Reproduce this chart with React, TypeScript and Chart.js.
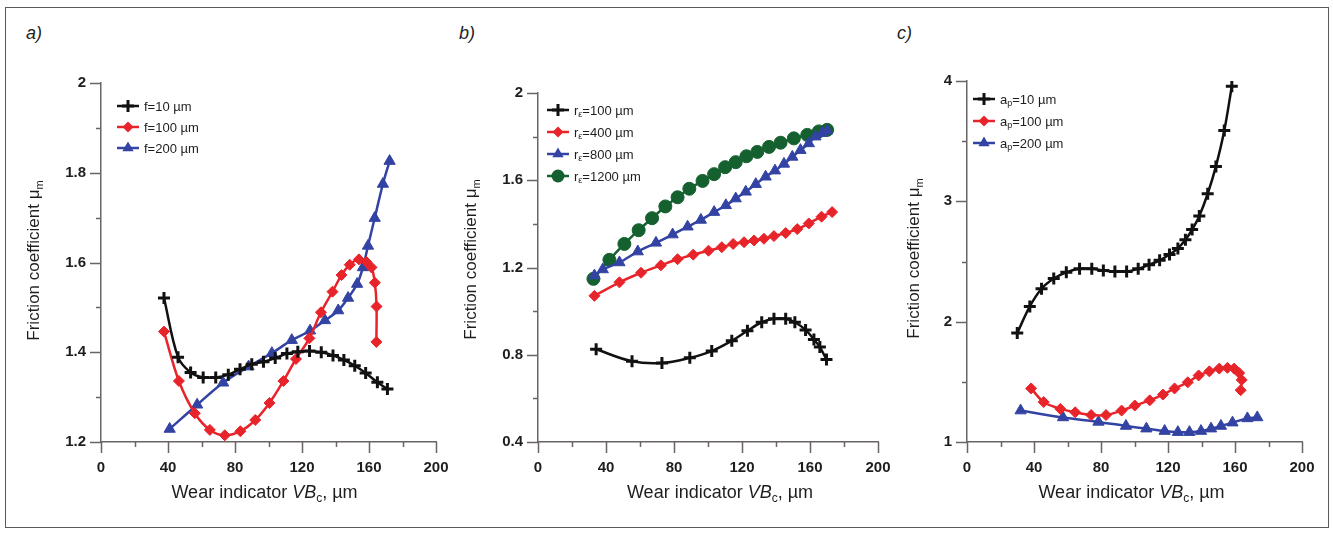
import React, { useEffect, useRef } from 'react';
import { Chart, registerables } from 'chart.js';
Chart.register(...registerables);

// ---------- shared axis ticks ----------
const X_TICKS = [0, 20, 40, 60, 80, 100, 120, 140, 160, 180, 200];
const X_MAJOR = [0, 40, 80, 120, 160, 200];

// ---------- panel a ----------
const A_Y_TICKS = [1.2, 1.3, 1.4, 1.5, 1.6, 1.7, 1.8, 1.9, 2];
const A_Y_MAJOR = [1.2, 1.4, 1.6, 1.8, 2];
const A_F10_X = [37.6, 46, 53.5, 61, 68.5, 76, 83, 90, 97, 104, 111, 117.5, 124.5, 131.5, 138.5, 145, 151.5, 158, 165, 171];
const A_F10_Y = [1.521, 1.389, 1.355, 1.344, 1.344, 1.35, 1.362, 1.373, 1.379, 1.387, 1.397, 1.401, 1.403, 1.4, 1.393, 1.383, 1.37, 1.354, 1.333, 1.318];
const A_F100_X = [37.6, 46.5, 56, 65, 73.9, 83.2, 92.1, 100.6, 108.9, 116.4, 124.4, 131.3, 138.2, 143.6, 148.5, 154, 158.5, 161.5, 163.5, 164.5, 164.4];
const A_F100_Y = [1.446, 1.336, 1.264, 1.227, 1.215, 1.224, 1.249, 1.287, 1.336, 1.385, 1.431, 1.489, 1.535, 1.572, 1.595, 1.607, 1.601, 1.589, 1.555, 1.502, 1.423];
const A_F200_X = [41, 57.4, 72.9, 88.1, 102, 113.9, 124.8, 133.7, 141.6, 147.5, 152.9, 156.4, 159.4, 163.4, 168.3, 172.3];
const A_F200_Y = [1.229, 1.283, 1.332, 1.368, 1.398, 1.427, 1.448, 1.471, 1.493, 1.521, 1.552, 1.589, 1.637, 1.699, 1.775, 1.826];

// ---------- panel b ----------
const B_Y_TICKS = [0.4, 0.6, 0.8, 1.0, 1.2, 1.4, 1.6, 1.8, 2];
const B_Y_MAJOR = [0.4, 0.8, 1.2, 1.6, 2];
const B_R100_X = [34.2, 55.3, 72.9, 89.3, 102.2, 114, 123.2, 131.6, 138.8, 145.7, 151.1, 157.4, 162.3, 165.8, 169.7];
const B_R100_Y = [0.825, 0.77, 0.762, 0.786, 0.817, 0.864, 0.91, 0.949, 0.965, 0.965, 0.949, 0.914, 0.87, 0.835, 0.778];
const B_R400_X = [33.2, 47.9, 60.6, 72.3, 82.1, 91.3, 100.3, 108.1, 114.8, 121.2, 127.1, 132.9, 138.8, 145.7, 152.5, 159.3, 166.8, 173];
const B_R400_Y = [1.07, 1.132, 1.176, 1.21, 1.238, 1.259, 1.277, 1.293, 1.308, 1.316, 1.324, 1.332, 1.344, 1.358, 1.376, 1.402, 1.433, 1.454];
const B_R800_X = [33.2, 38.1, 47.9, 58.7, 69.4, 79.2, 88, 95.8, 103.6, 110.5, 116.3, 122.2, 128.1, 133.9, 139.4, 144.7, 149.6, 154.4, 159.3, 163.2, 167.2, 170.1];
const B_R800_Y = [1.163, 1.191, 1.223, 1.273, 1.313, 1.351, 1.387, 1.418, 1.454, 1.485, 1.516, 1.547, 1.582, 1.616, 1.644, 1.675, 1.707, 1.738, 1.769, 1.8, 1.816, 1.827];
const B_R1200_X = [32.6, 42, 50.8, 59.2, 67.1, 74.9, 82.1, 89, 96.8, 103.6, 110.1, 116.3, 122.6, 129, 135.9, 142.7, 150.5, 158.4, 165.2, 170.1];
const B_R1200_Y = [1.148, 1.235, 1.308, 1.371, 1.426, 1.48, 1.522, 1.561, 1.597, 1.628, 1.66, 1.683, 1.71, 1.73, 1.753, 1.772, 1.792, 1.808, 1.824, 1.831];

// ---------- panel c ----------
const C_Y_TICKS = [1, 1.5, 2, 2.5, 3, 3.5, 4];
const C_Y_MAJOR = [1, 2, 3, 4];
const C_A10_X = [30, 37.5, 44.5, 51.8, 59.3, 67.2, 74.5, 81.4, 88.3, 95.3, 102.2, 108.7, 115, 120.9, 125.9, 130.4, 134.4, 138.7, 143.7, 148.6, 153.6, 158.1];
const C_A10_Y = [1.905, 2.127, 2.274, 2.359, 2.41, 2.439, 2.439, 2.425, 2.416, 2.416, 2.439, 2.473, 2.51, 2.558, 2.609, 2.68, 2.765, 2.879, 3.063, 3.29, 3.588, 3.957];
const C_A100_X = [38.3, 45.8, 55.7, 64.6, 74.1, 83, 92.3, 100.2, 109.1, 117, 123.9, 131.8, 138.3, 144.7, 150.6, 155.5, 159.5, 162.5, 164, 163.4];
const C_A100_Y = [1.445, 1.332, 1.275, 1.247, 1.224, 1.224, 1.261, 1.303, 1.346, 1.394, 1.445, 1.496, 1.553, 1.587, 1.61, 1.616, 1.61, 1.573, 1.516, 1.431];
const C_A200_X = [32, 57.3, 78.5, 94.9, 107.1, 118, 125.9, 132.8, 139.7, 145.7, 151.6, 158.5, 167.4, 173.3];
const C_A200_Y = [1.261, 1.204, 1.167, 1.133, 1.111, 1.091, 1.082, 1.082, 1.091, 1.111, 1.133, 1.161, 1.196, 1.204];

// ---------- styles ----------
const BLACK = '#111111';
const RED = '#e8242b';
const BLUE = '#3343a3';
const GREEN = '#15602f';
const AXIS = '#6a6464';
const TEXT = '#1e1e1e';
const FONT = '"Liberation Sans", Arial, Helvetica, sans-serif';

type Seg = { t: string; it?: boolean; sub?: boolean };
type Kind = 'cross' | 'diamond' | 'triangle' | 'circle';
type Series = { xs: number[]; ys: number[]; kind: Kind; label: Seg[] };

const KIND_STYLE: Record<Kind, { color: string; pointStyle: string; r: number; bw: number }> = {
  cross: { color: BLACK, pointStyle: 'cross', r: 6, bw: 3 },
  diamond: { color: RED, pointStyle: 'rectRot', r: 5.5, bw: 1 },
  triangle: { color: BLUE, pointStyle: 'triangle', r: 6.5, bw: 1 },
  circle: { color: GREEN, pointStyle: 'circle', r: 6.5, bw: 1 },
};

function drawRich(ctx: CanvasRenderingContext2D, segs: Seg[], x: number, y: number, size: number, align: 'left' | 'center', weight = 'normal') {
  const fontFor = (s: Seg) => `${s.it ? 'italic ' : ''}${weight} ${s.sub ? Math.round(size * 0.66) : size}px ${FONT}`;
  const widths = segs.map((s) => {
    ctx.font = fontFor(s);
    return ctx.measureText(s.t).width;
  });
  const total = widths.reduce((a, b) => a + b, 0);
  let cx = align === 'center' ? x - total / 2 : x;
  ctx.textAlign = 'left';
  ctx.textBaseline = 'alphabetic';
  segs.forEach((s, i) => {
    ctx.font = fontFor(s);
    ctx.fillText(s.t, cx, s.sub ? y + size * 0.22 : y);
    cx += widths[i];
  });
}

function drawMarker(ctx: CanvasRenderingContext2D, kind: Kind, x: number, y: number) {
  const st = KIND_STYLE[kind];
  const r = st.r;
  ctx.fillStyle = st.color;
  ctx.strokeStyle = st.color;
  ctx.beginPath();
  if (kind === 'cross') {
    ctx.lineWidth = st.bw;
    ctx.moveTo(x - r, y);
    ctx.lineTo(x + r, y);
    ctx.moveTo(x, y - r);
    ctx.lineTo(x, y + r);
    ctx.stroke();
    return;
  }
  if (kind === 'diamond') {
    ctx.moveTo(x, y - r);
    ctx.lineTo(x + r, y);
    ctx.lineTo(x, y + r);
    ctx.lineTo(x - r, y);
  } else if (kind === 'triangle') {
    ctx.moveTo(x, y - r);
    ctx.lineTo(x + r * 0.866, y + r * 0.5);
    ctx.lineTo(x - r * 0.866, y + r * 0.5);
  } else {
    ctx.arc(x, y, r, 0, Math.PI * 2);
  }
  ctx.closePath();
  ctx.fill();
}

type PanelCfg = {
  left: number;
  width: number;
  area: { l: number; r: number; t: number; b: number };
  yMin: number;
  yMax: number;
  yTicks: number[];
  yMajor: number[];
  series: Series[];
  legend: { dx: number; dy: number; gap: number };
  yTitle: { dx: number; dy: number };
  xTitle: { dx: number; dy: number };
};

const Y_W = 60;
const X_H = 40;
const H = 533;

const Y_TITLE: Seg[] = [{ t: 'Friction coefficient μ' }, { t: 'm', sub: true }];
const X_TITLE: Seg[] = [{ t: 'Wear indicator ' }, { t: 'VB', it: true }, { t: 'c', sub: true }, { t: ', µm' }];

function Panel({ cfg }: { cfg: PanelCfg }) {
  const ref = useRef<HTMLCanvasElement>(null);
  useEffect(() => {
    const canvas = ref.current!;
    const { area, left, width } = cfg;
    const padL = area.l - left - Y_W;
    const padR = left + width - area.r;
    const padT = area.t;
    const padB = H - area.b - X_H;

    const decor = {
      id: 'decor',
      afterDraw(chart: any) {
        const { ctx, chartArea, scales } = chart;
        const xs = scales.x;
        const ys = scales.y;
        ctx.save();
        ctx.strokeStyle = AXIS;
        ctx.lineWidth = 1.5;
        ctx.beginPath();
        X_TICKS.forEach((v) => {
          const px = Math.round(xs.getPixelForValue(v)) + 0.5;
          const len = X_MAJOR.includes(v) ? 11 : 5;
          ctx.moveTo(px, chartArea.bottom);
          ctx.lineTo(px, chartArea.bottom + len);
        });
        cfg.yTicks.forEach((v) => {
          const py = Math.round(ys.getPixelForValue(v)) + 0.5;
          const len = cfg.yMajor.includes(v) ? 11 : 5;
          ctx.moveTo(chartArea.left, py);
          ctx.lineTo(chartArea.left - len, py);
        });
        ctx.stroke();

        // axis titles
        ctx.fillStyle = TEXT;
        const cxm = (chartArea.left + chartArea.right) / 2 + cfg.xTitle.dx;
        drawRich(ctx, X_TITLE, cxm, chartArea.bottom + cfg.xTitle.dy, 18, 'center');
        ctx.save();
        ctx.translate(chartArea.left + cfg.yTitle.dx, (chartArea.top + chartArea.bottom) / 2 + cfg.yTitle.dy);
        ctx.rotate(-Math.PI / 2);
        drawRich(ctx, Y_TITLE, 0, 6, 17, 'center');
        ctx.restore();

        // legend
        cfg.series.forEach((s, i) => {
          const y = chartArea.top + cfg.legend.dy + i * cfg.legend.gap;
          const x0 = chartArea.left + cfg.legend.dx;
          const st = KIND_STYLE[s.kind];
          ctx.strokeStyle = st.color;
          ctx.lineWidth = 2.5;
          ctx.beginPath();
          ctx.moveTo(x0, y);
          ctx.lineTo(x0 + 22, y);
          ctx.stroke();
          drawMarker(ctx, s.kind, x0 + 11, y);
          ctx.fillStyle = TEXT;
          drawRich(ctx, s.label, x0 + 27, y + 4.5, 13, 'left');
        });
        ctx.restore();
      },
    };

    const chart = new Chart(canvas, {
      type: 'line',
      data: {
        datasets: cfg.series.map((s) => {
          const st = KIND_STYLE[s.kind];
          return {
            data: s.xs.map((x, i) => ({ x, y: s.ys[i] })),
            borderColor: st.color,
            backgroundColor: st.color,
            borderWidth: 2.5,
            pointStyle: st.pointStyle as any,
            pointRadius: st.r,
            pointBorderWidth: st.bw,
            pointBackgroundColor: st.color,
            pointBorderColor: st.color,
            tension: 0.35,
            fill: false,
          };
        }),
      },
      options: {
        animation: false,
        responsive: false,
        devicePixelRatio: 1,
        layout: { padding: { left: padL, right: padR, top: padT, bottom: padB } },
        plugins: { legend: { display: false }, tooltip: { enabled: false } },
        scales: {
          x: {
            type: 'linear',
            min: 0,
            max: 200,
            afterBuildTicks: (sc: any) => {
              sc.ticks = X_TICKS.map((v) => ({ value: v }));
            },
            afterFit: (sc: any) => {
              sc.height = X_H;
              sc.paddingLeft = 0;
              sc.paddingRight = 0;
            },
            ticks: {
              autoSkip: false,
              maxRotation: 0,
              padding: 6,
              color: TEXT,
              font: { family: FONT, size: 15, weight: 'bold' },
              callback: (v: any) => (X_MAJOR.includes(v) ? String(v) : ''),
            },
            grid: { display: true, drawOnChartArea: false, drawTicks: true, tickLength: 11, tickColor: 'rgba(0,0,0,0)' },
            border: { display: true, color: AXIS, width: 1.5 },
          },
          y: {
            type: 'linear',
            min: cfg.yMin,
            max: cfg.yMax,
            afterBuildTicks: (sc: any) => {
              sc.ticks = cfg.yTicks.map((v) => ({ value: v }));
            },
            afterFit: (sc: any) => {
              sc.width = Y_W;
              sc.paddingTop = 0;
              sc.paddingBottom = 0;
            },
            ticks: {
              autoSkip: false,
              padding: 4,
              color: TEXT,
              font: { family: FONT, size: 15, weight: 'bold' },
              callback: (v: any) => (cfg.yMajor.includes(v) ? String(v) : ''),
            },
            grid: { display: true, drawOnChartArea: false, drawTicks: true, tickLength: 11, tickColor: 'rgba(0,0,0,0)' },
            border: { display: true, color: AXIS, width: 1.5 },
          },
        },
      } as any,
      plugins: [decor],
    });
    return () => chart.destroy();
  }, [cfg]);
  return (
    <canvas
      ref={ref}
      width={cfg.width}
      height={H}
      style={{ position: 'absolute', left: cfg.left, top: 0, width: cfg.width, height: H }}
    />
  );
}

const PANEL_A: PanelCfg = {
  left: 0,
  width: 460,
  area: { l: 101, r: 436, t: 83, b: 442 },
  yMin: 1.2,
  yMax: 2,
  yTicks: A_Y_TICKS,
  yMajor: A_Y_MAJOR,
  series: [
    { xs: A_F10_X, ys: A_F10_Y, kind: 'cross', label: [{ t: 'f=10 µm' }] },
    { xs: A_F100_X, ys: A_F100_Y, kind: 'diamond', label: [{ t: 'f=100 µm' }] },
    { xs: A_F200_X, ys: A_F200_Y, kind: 'triangle', label: [{ t: 'f=200 µm' }] },
  ],
  legend: { dx: 16, dy: 23, gap: 21 },
  yTitle: { dx: -68, dy: -2 },
  xTitle: { dx: -4, dy: 56 },
};

const PANEL_B: PanelCfg = {
  left: 440,
  width: 460,
  area: { l: 538, r: 878, t: 93, b: 442 },
  yMin: 0.4,
  yMax: 2,
  yTicks: B_Y_TICKS,
  yMajor: B_Y_MAJOR,
  series: [
    { xs: B_R100_X, ys: B_R100_Y, kind: 'cross', label: [{ t: 'r' }, { t: 'ε', sub: true }, { t: '=100 µm' }] },
    { xs: B_R400_X, ys: B_R400_Y, kind: 'diamond', label: [{ t: 'r' }, { t: 'ε', sub: true }, { t: '=400 µm' }] },
    { xs: B_R800_X, ys: B_R800_Y, kind: 'triangle', label: [{ t: 'r' }, { t: 'ε', sub: true }, { t: '=800 µm' }] },
    { xs: B_R1200_X, ys: B_R1200_Y, kind: 'circle', label: [{ t: 'r' }, { t: 'ε', sub: true }, { t: '=1200 µm' }] },
  ],
  legend: { dx: 9, dy: 17, gap: 22 },
  yTitle: { dx: -68, dy: -8 },
  xTitle: { dx: 12, dy: 56 },
};

const PANEL_C: PanelCfg = {
  left: 880,
  width: 453,
  area: { l: 967, r: 1302, t: 81, b: 442 },
  yMin: 1,
  yMax: 4,
  yTicks: C_Y_TICKS,
  yMajor: C_Y_MAJOR,
  series: [
    { xs: C_A10_X, ys: C_A10_Y, kind: 'cross', label: [{ t: 'a' }, { t: 'p', sub: true }, { t: '=10 µm' }] },
    { xs: C_A100_X, ys: C_A100_Y, kind: 'diamond', label: [{ t: 'a' }, { t: 'p', sub: true }, { t: '=100 µm' }] },
    { xs: C_A200_X, ys: C_A200_Y, kind: 'triangle', label: [{ t: 'a' }, { t: 'p', sub: true }, { t: '=200 µm' }] },
  ],
  legend: { dx: 6, dy: 18, gap: 22 },
  yTitle: { dx: -54, dy: -3 },
  xTitle: { dx: -3, dy: 56 },
};

const PANEL_TAGS = [
  { text: 'a)', left: 26 },
  { text: 'b)', left: 459 },
  { text: 'c)', left: 897 },
];

export default function App() {
  return (
    <div style={{ position: 'absolute', left: 0, top: 0, width: 1333, height: H, background: '#fff', overflow: 'hidden' }}>
      <div style={{ position: 'absolute', left: 5, top: 7, width: 1322, height: 519, border: '1px solid #5a5a5a' }} />
      {PANEL_TAGS.map((p) => (
        <span
          key={p.text}
          style={{ position: 'absolute', left: p.left, top: 23, fontFamily: FONT, fontStyle: 'italic', fontSize: 18, lineHeight: '20px', color: TEXT }}
        >
          {p.text}
        </span>
      ))}
      <Panel cfg={PANEL_A} />
      <Panel cfg={PANEL_B} />
      <Panel cfg={PANEL_C} />
    </div>
  );
}
